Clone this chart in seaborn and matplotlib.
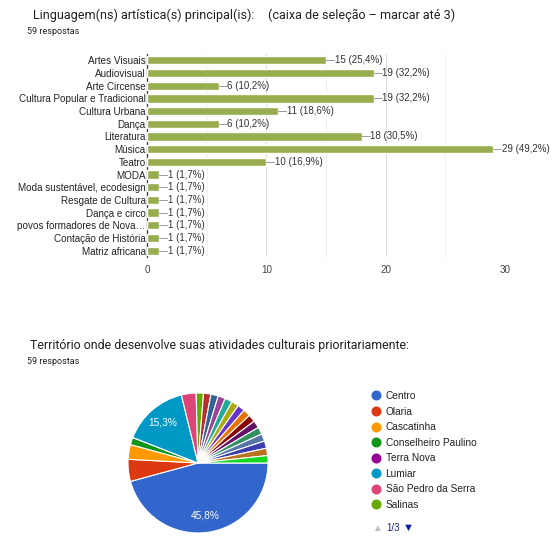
import matplotlib
matplotlib.use("Agg")
import matplotlib.pyplot as plt
import seaborn as sns
import pandas as pd
from matplotlib.lines import Line2D

# dados do grafico de barras
linguagens = ["Artes Visuais", "Audiovisual", "Arte Circense", "Cultura Popular e Tradicional",
              "Cultura Urbana", "Dança", "Literatura", "Música", "Teatro", "MODA",
              "Moda sustentável, ecodesign", "Resgate de Cultura", "Dança e circo",
              "povos formadores de Nova…", "Contação de História", "Matriz africana"]
contagem = [15, 19, 6, 19, 11, 6, 18, 29, 10, 1, 1, 1, 1, 1, 1, 1]
porcent = ["25,4", "32,2", "10,2", "32,2", "18,6", "10,2", "30,5", "49,2", "16,9",
           "1,7", "1,7", "1,7", "1,7", "1,7", "1,7", "1,7"]

# dados do grafico de pizza (so as 8 primeiras aparecem na legenda, pagina 1/3)
territorios = ["Centro", "Olaria", "Cascatinha", "Conselheiro Paulino", "Terra Nova",
               "Lumiar", "São Pedro da Serra", "Salinas"] + ["Outro %d" % i for i in range(1, 15)]
respostas_terr = [27, 3, 2, 1, 0, 9, 2, 1] + [1] * 14
cores = ["#3366cc", "#dc3912", "#ff9900", "#109618", "#990099", "#0099c6", "#dd4477",
         "#66aa00", "#b82e2e", "#316395", "#994499", "#22aa99", "#aaaa11", "#6633cc",
         "#e67300", "#8b0707", "#651067", "#329262", "#5574a6", "#3b3eac", "#b77322",
         "#16d620"]

sns.set_theme(style="white")
plt.rcParams['font.family'] = ['Liberation Sans', 'DejaVu Sans']
roboto = ["Roboto", "DejaVu Sans"]

W, H = 559, 548
fig = plt.figure(figsize=(W / 100, H / 100), dpi=100)

def caixa(x0, y0, x1, y1):
    return [x0 / W, 1 - y1 / H, (x1 - x0) / W, (y1 - y0) / H]

# ---- barras ----
fig.text(33 / W, 1 - 15 / H, "Linguagem(ns) artística(s) principal(is):",
         fontsize=9.0, color="#202124", va="center", family=roboto)
fig.text(268 / W, 1 - 15 / H, "(caixa de seleção – marcar até 3)",
         fontsize=9.0, color="#202124", va="center", family=roboto)
fig.text(27 / W, 1 - 32 / H, "59 respostas", fontsize=6.5, color="#202124", va="center",
         family=roboto)

ax = fig.add_axes(caixa(147, 54, 505, 257))
df = pd.DataFrame({"linguagem": linguagens, "n": contagem})
sns.barplot(data=df, x="n", y="linguagem", orient="h", color="#97ad4e", width=0.65,
            saturation=1, ax=ax, zorder=3)
ax.set_xlim(0, 30)
ax.set_ylim(len(linguagens) - 0.5, -0.5)
ax.set_xticks([0, 10, 20, 30])
ax.set_xticks([5, 15, 25], minor=True)
ax.grid(axis="x", which="major", color="#dddddd", lw=0.8, zorder=0)
ax.grid(axis="x", which="minor", color="#f0f0f0", lw=0.8, zorder=0)
ax.set_xlabel("")
ax.set_ylabel("")
for s in ["top", "right", "bottom"]:
    ax.spines[s].set_visible(False)
ax.spines["left"].set_color("#333333")
ax.spines["left"].set_linewidth(0.9)
ax.tick_params(axis="y", length=0, pad=1, labelsize=7.1, labelcolor="#222222")
ax.tick_params(axis="x", length=0, pad=6, labelsize=7.1, labelcolor="#444444")
for i, (v, p) in enumerate(zip(contagem, porcent)):
    ax.plot([v, v + 0.68], [i, i], color="#999999", lw=0.7, zorder=4)
    ax.text(v + 0.72, i, "%d (%s%%)" % (v, p), fontsize=7.0, color="#333333",
            va="center", ha="left")

# ---- pizza ----
fig.text(30 / W, 1 - 346 / H, "Território onde desenvolve suas atividades culturais prioritariamente:",
         fontsize=8.95, color="#202124", va="center", family=roboto)
fig.text(27 / W, 1 - 362 / H, "59 respostas", fontsize=6.5, color="#202124", va="center",
         family=roboto)

axp = fig.add_axes(caixa(128, 393, 268, 533))

def rotulo(pct):
    return ("%.1f%%" % pct).replace(".", ",") if pct > 10 else ""

fatias, _, textos = axp.pie(respostas_terr, colors=cores, startangle=0, counterclock=False,
                            autopct=rotulo, pctdistance=0.76,
                            wedgeprops=dict(edgecolor="white", linewidth=0.8),
                            textprops=dict(color="white", fontsize=7.3))
axp.set_xlim(-1, 1)
axp.set_ylim(-1, 1)
axp.set_aspect("equal")
axp.axis("off")

alcas = [Line2D([], [], marker="o", ls="", color=c, markersize=6.2) for c in cores[:8]]
fig.legend(alcas, territorios[:8], loc="upper left", bbox_to_anchor=(371 / W, 1 - 391 / H),
           frameon=False, fontsize=7.25, labelspacing=0.55, handletextpad=0.45,
           handlelength=1.0, borderaxespad=0, borderpad=0, labelcolor="#222222")

fig.text(372 / W, 1 - 528 / H, "▲", fontsize=7, color="#c0c0c0", va="center", ha="left")
fig.text(386 / W, 1 - 528 / H, "1/3", fontsize=7.0, color="#1a237e", va="center", ha="left")
fig.text(403 / W, 1 - 528 / H, "▼", fontsize=8, color="#0d1a9e", va="center", ha="left")

fig.savefig("out.png", dpi=100, facecolor="white")
